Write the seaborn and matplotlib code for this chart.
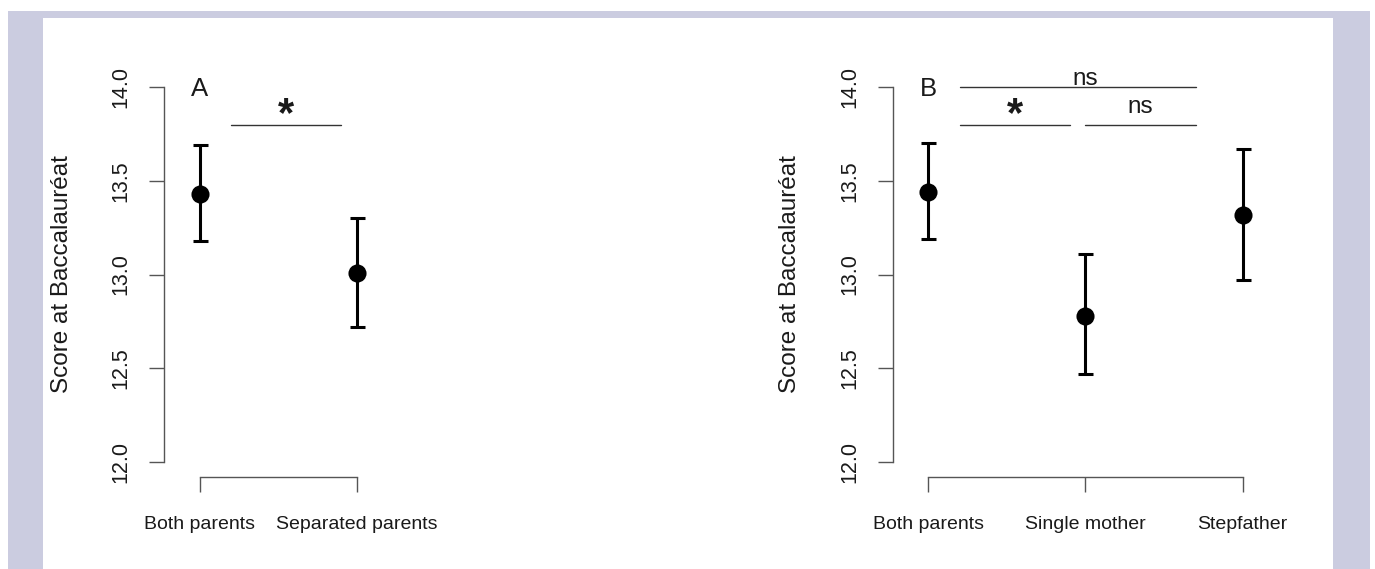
import numpy as np
import seaborn as sns
import matplotlib
matplotlib.use('Agg')
import matplotlib.pyplot as plt
from matplotlib.patches import Rectangle

# data (mean score and the ends of the error bars)
groups_a = ['Both parents', 'Separated parents']
means_a = [13.43, 13.01]
lower_a = [13.18, 12.72]
upper_a = [13.69, 13.30]

groups_b = ['Both parents', 'Single mother', 'Stepfather']
means_b = [13.44, 12.78, 13.32]
lower_b = [13.19, 12.47, 12.97]
upper_b = [13.70, 13.11, 13.67]

# significance brackets: (x start, x end, y, label)
sig_a = [(1.2, 1.9, 13.8, '*')]
sig_b = [(1.2, 1.9, 13.8, '*'), (2.0, 2.7, 13.8, 'ns'), (1.2, 2.7, 14.0, 'ns')]

y_ticks = [12.0, 12.5, 13.0, 13.5, 14.0]
y_label = 'Score at Baccalauréat'

sns.set_style('ticks')
plt.rcParams['font.family'] = ['Liberation Sans', 'DejaVu Sans']

W, H = 1375, 569
fig = plt.figure(figsize=(W / 100, H / 100), dpi=100)
fig.patch.set_facecolor('white')

# page background frame
fig.add_artist(Rectangle((8 / W, 0), 1362 / W, (H - 11) / H, transform=fig.transFigure,
                         facecolor='#cbcce0', edgecolor='none', zorder=-10))
fig.add_artist(Rectangle((43 / W, 0), 1290 / W, (H - 17.7) / H, transform=fig.transFigure,
                         facecolor='white', edgecolor='none', zorder=-9))

axis_col = '#555555'
text_col = '#1a1a1a'


def panel(ax, groups, means, lower, upper, sigs, letter):
    means = np.array(means)
    pos = np.arange(1, len(groups) + 1)
    yerr = [means - np.array(lower), np.array(upper) - means]
    ax.errorbar(pos, means, yerr=yerr, fmt='none', ecolor='black', elinewidth=2.2,
                capsize=5.4, capthick=2.2, zorder=2)
    sns.scatterplot(x=pos, y=means, ax=ax, color='black', s=170, edgecolor='black',
                    linewidth=0, zorder=3, legend=False)

    ax.set_xlim(0.775, 3.3)
    ax.set_ylim(11.92, 14.08)
    ax.set_facecolor('none')
    sns.despine(ax=ax)
    ax.spines['left'].set_bounds(12, 14)
    ax.spines['bottom'].set_bounds(1, len(groups))
    for s in ['left', 'bottom']:
        ax.spines[s].set_color(axis_col)
        ax.spines[s].set_linewidth(1.0)

    ax.set_xticks(pos, groups)
    ax.set_yticks(y_ticks, [f'{v:.1f}' for v in y_ticks])
    ax.tick_params(axis='both', length=10.5, width=1.0, color=axis_col, labelcolor=text_col)
    ax.tick_params(axis='x', pad=18, labelsize=14)
    ax.tick_params(axis='y', pad=13, labelsize=15.5)
    for t in ax.get_yticklabels():
        t.set_rotation(90)
        t.set_va('center')

    ax.set_ylabel(y_label, fontsize=17.5, color=text_col, va='center')
    ax.yaxis.set_label_coords((62 - 164.3) / 397.2, 0.5)

    ax.text(1, 13.952, letter, ha='center', va='baseline', fontsize=18.5, color=text_col)

    for x0, x1, y, lab in sigs:
        ax.plot([x0, x1], [y, y], color='#333333', lw=1.0)
        xm = (x0 + x1) / 2
        if lab == '*':
            ax.text(xm, y - 0.005, lab, ha='center', va='baseline', fontsize=30,
                    fontweight='bold', color=text_col)
        elif y >= 14.0:
            ax.text(2.0, y + 0.012, lab, ha='center', va='baseline', fontsize=17.5, color=text_col)
        else:
            ax.text(xm, y + 0.061, lab, ha='center', va='baseline', fontsize=17.5, color=text_col)


bottom = (H - 476.7) / H
height = (476.7 - 72.3) / H
ax_a = fig.add_axes([164.3 / W, bottom, 397.2 / W, height])
ax_b = fig.add_axes([892.7 / W, bottom, 397.2 / W, height])

panel(ax_a, groups_a, means_a, lower_a, upper_a, sig_a, 'A')
panel(ax_b, groups_b, means_b, lower_b, upper_b, sig_b, 'B')

fig.savefig('out.png', dpi=100)
